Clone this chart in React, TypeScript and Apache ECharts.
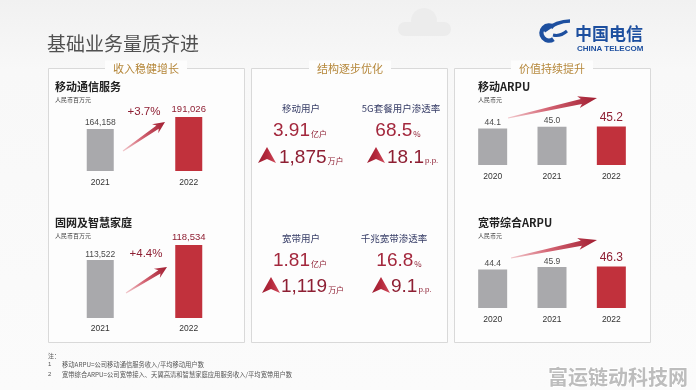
import React, { useEffect, useRef } from 'react';
import * as echarts from 'echarts';

// ---------- data ----------
const yearsTwo = ['2021', '2022'];
const mobileServiceRevenue = [164158, 191026];
const homeRevenue = [113522, 118534];
const yearsThree = ['2020', '2021', '2022'];
const mobileArpu = [44.1, 45.0, 45.2];
const broadbandArpu = [44.4, 45.9, 46.3];
const revenueGrowth = ['+3.7%', '+4.4%'];
const kpiNames = ['移动用户', '5G套餐用户渗透率', '宽带用户', '千兆宽带渗透率'];
const kpiValues = ['3.91', '68.5', '1.81', '16.8'];
const kpiUnits = ['亿户', '%', '亿户', '%'];
const kpiDeltas = ['1,875', '18.1', '1,119', '9.1'];
const kpiDeltaUnits = ['万户', 'p.p.', '万户', 'p.p.'];
const panelHeaders = ['收入稳健增长', '结构逐步优化', '价值持续提升'];
const chartTitles = ['移动通信服务', '固网及智慧家庭', '移动ARPU', '宽带综合ARPU'];
const chartUnits = ['人民币百万元', '人民币百万元', '人民币元', '人民币元'];
const notes = [
  '移动ARPU=公司移动通信服务收入/平均移动用户数',
  '宽带综合ARPU=公司宽带接入、天翼高清和智慧家庭应用服务收入/平均宽带用户数',
];

// ---------- styles ----------
const GRAY = '#a9a9ac';
const RED = '#c1313c';
const DARK_RED = '#8e1f33';
const NUM = '"Liberation Sans", Arial, sans-serif';
const CJK = '"Noto Sans CJK SC", sans-serif';
const BLUE = '#1d4f9f';
const PANEL_FILL = '#fdfdfd';

function arrowPoints(x1: number, y1: number, x2: number, y2: number, tailW: number, shaftW: number, headW: number, headLen: number) {
  const dx = x2 - x1, dy = y2 - y1;
  const L = Math.sqrt(dx * dx + dy * dy);
  const ux = dx / L, uy = dy / L;
  const nx = -uy, ny = ux;
  const bx = x2 - ux * headLen, by = y2 - uy * headLen;
  const sx = bx + ux * 3, sy = by + uy * 3;
  return [
    [x1 + nx * tailW / 2, y1 + ny * tailW / 2],
    [sx + nx * shaftW / 2, sy + ny * shaftW / 2],
    [bx + nx * headW / 2, by + ny * headW / 2],
    [x2, y2],
    [bx - nx * headW / 2, by - ny * headW / 2],
    [sx - nx * shaftW / 2, sy - ny * shaftW / 2],
    [x1 - nx * tailW / 2, y1 - ny * tailW / 2],
  ];
}

function arrow(x1: number, y1: number, x2: number, y2: number, shaftW: number, headW: number, headLen: number) {
  return {
    type: 'polygon',
    silent: true,
    shape: { points: arrowPoints(x1, y1, x2, y2, 1, shaftW, headW, headLen) },
    style: {
      fill: new echarts.graphic.LinearGradient(x1, y1, x2, y2, [
        { offset: 0, color: '#f2c9cd' },
        { offset: 0.45, color: '#d36372' },
        { offset: 1, color: '#a11d30' },
      ], true),
    },
    z: 5,
  };
}

function text(x: number, y: number, t: string, s: any) {
  return {
    type: 'text',
    silent: true,
    x,
    y,
    z: 6,
    style: {
      text: t,
      align: s.align || 'left',
      textAlign: s.align || 'left',
      verticalAlign: 'middle',
      textVerticalAlign: 'middle',
      ...s,
    },
  };
}

function triangle(cx: number, top: number) {
  const w = 18, h = 16, notch = 4;
  return {
    type: 'polygon',
    silent: true,
    shape: { points: [[cx, top], [cx + w / 2, top + h], [cx, top + h - notch], [cx - w / 2, top + h]] },
    style: {
      fill: new echarts.graphic.LinearGradient(cx - w / 2, top, cx + w / 2, top, [
        { offset: 0, color: '#9c1c30' },
        { offset: 0.5, color: '#b4283b' },
        { offset: 1, color: '#cf4a5a' },
      ], true),
    },
    z: 6,
  };
}

function barSeries(idx: number, values: number[], fmt: (v: number) => string, graySize: number, redSize: number, barWidth: number) {
  return {
    type: 'bar',
    xAxisIndex: idx,
    yAxisIndex: idx,
    barWidth,
    label: {
      show: true,
      position: 'top',
      formatter: (p: any) => fmt(Number(p.value)),
      fontFamily: NUM,
    },
    data: values.map((v, i) => {
      const last = i === values.length - 1;
      return {
        value: v,
        itemStyle: { color: last ? RED : GRAY },
        label: {
          color: last ? DARK_RED : '#4a4a4a',
          fontSize: last ? redSize : graySize,
          distance: last ? 3 : 2,
        },
      };
    }),
  };
}

function buildOption() {
  const grids = [
    { left: 56, top: 100, width: 177, height: 71 },
    { left: 56, top: 240, width: 177, height: 78 },
    { left: 463, top: 125, width: 178, height: 40 },
    { left: 463, top: 265, width: 178, height: 43 },
  ];
  const cats = [yearsTwo, yearsTwo, yearsThree, yearsThree];
  const margins = [6, 5, 6, 6];
  const ranges = [[70000, 229000], [94200, 120200], [24, 46], [20, 47.2]];

  const thousands = (v: number) => v.toLocaleString('en-US');
  const oneDec = (v: number) => v.toFixed(1);

  const kpiLayout = [
    { nameX: 301, nameY: 108, valX: 300, valY: 129, triX: 267, triTop: 147, dX: 279, dY: 156 },
    { nameX: 401, nameY: 108, valX: 398, valY: 129, triX: 376, triTop: 147, dX: 387, dY: 156 },
    { nameX: 301, nameY: 238, valX: 300, valY: 259, triX: 271, triTop: 277, dX: 281, dY: 285 },
    { nameX: 394, nameY: 238, valX: 399, valY: 259, triX: 381, triTop: 277, dX: 391, dY: 285 },
  ];

  const graphic: any[] = [];
  // background
  graphic.push({
    type: 'rect', silent: true, z: -10,
    shape: { x: 0, y: 0, width: 696, height: 390 },
    style: {
      fill: new echarts.graphic.LinearGradient(0, 0, 0, 390, [
        { offset: 0, color: '#f1f1f1' },
        { offset: 0.18, color: '#f8f8f8' },
        { offset: 1, color: '#fbfbfb' },
      ], true),
    },
  });
  // faint cloud decoration
  graphic.push({ type: 'circle', silent: true, z: -9, shape: { cx: 424, cy: 21, r: 13 }, style: { fill: '#ececec' } });
  graphic.push({ type: 'rect', silent: true, z: -9, shape: { x: 398, y: 22, width: 53, height: 14, r: 7 }, style: { fill: '#ececec' } });

  // title
  graphic.push(text(47, 42, '基础业务量质齐进', { fontSize: 19, fontFamily: CJK, fill: '#505050' }));

  // logo
  graphic.push({ type: 'arc', silent: true, z: 6, shape: { cx: 549, cy: 33, r: 7.5, startAngle: Math.PI * 0.3, endAngle: Math.PI * 1.72 }, style: { stroke: BLUE, lineWidth: 4.5, fill: null } });
  graphic.push({ type: 'bezierCurve', silent: true, z: 6, shape: { x1: 544, y1: 31, x2: 570, y2: 21, cpx1: 557, cpy1: 21 }, style: { stroke: BLUE, lineWidth: 3.5, fill: null } });
  graphic.push({ type: 'bezierCurve', silent: true, z: 6, shape: { x1: 553, y1: 35, x2: 567, y2: 31, cpx1: 560, cpy1: 37 }, style: { stroke: BLUE, lineWidth: 3, fill: null } });
  graphic.push(text(575, 32, '中国电信', { fontSize: 17, fontWeight: 'bold', fontFamily: CJK, fill: BLUE }));
  graphic.push(text(577, 48, 'CHINA TELECOM', { fontSize: 8, fontWeight: 'bold', fontFamily: NUM, fill: BLUE }));

  // panels
  const panelX = [48, 251, 454];
  const headerX = [146, 350, 552];
  panelX.forEach((px, i) => {
    graphic.push({
      type: 'rect', silent: true, z: -5,
      shape: { x: px + 0.5, y: 68.5, width: 196, height: 274 },
      style: { fill: PANEL_FILL, stroke: '#d9d9d9', lineWidth: 1 },
    });
    graphic.push(text(headerX[i], 68, panelHeaders[i], {
      align: 'center', fontSize: 11, fontFamily: CJK, fill: '#b5873a',
      backgroundColor: PANEL_FILL, padding: [2, 8],
    }));
  });

  // chart titles
  const titlePos = [[55, 86, 99], [55, 222, 235], [478, 86, 99], [478, 222, 235]];
  titlePos.forEach((p, i) => {
    graphic.push(text(p[0], p[1], chartTitles[i], { fontSize: 11, fontWeight: 'bold', fontFamily: CJK, fill: '#222', lineHeight: 12 }));
    graphic.push(text(p[0], p[2], chartUnits[i], { fontSize: 6, fontFamily: CJK, fill: '#444', lineHeight: 7 }));
  });

  // growth labels + arrows
  graphic.push(text(144, 111, revenueGrowth[0], { align: 'center', fontSize: 11.5, fontFamily: NUM, fill: DARK_RED }));
  graphic.push(text(146, 253, revenueGrowth[1], { align: 'center', fontSize: 11.5, fontFamily: NUM, fill: DARK_RED }));
  graphic.push(arrow(123, 151, 165, 122, 4, 11, 12));
  graphic.push(arrow(126, 293, 167, 267, 4, 11, 12));
  graphic.push(arrow(508, 118, 597, 98, 5, 12, 19));
  graphic.push(arrow(511, 258, 597, 240, 5, 12, 19));

  // KPIs
  kpiLayout.forEach((l, i) => {
    graphic.push(text(l.nameX, l.nameY, kpiNames[i], { align: 'center', fontSize: 9.5, fontFamily: CJK, fill: '#363c66' }));
    graphic.push(text(l.valX, l.valY, `{v|${kpiValues[i]}}{u|${kpiUnits[i]}}`, {
      align: 'center',
      rich: {
        v: { fontSize: 19, fontFamily: NUM, fill: '#a3283d', color: '#a3283d', verticalAlign: 'bottom' },
        u: { fontSize: 8, fontFamily: CJK, fill: '#8e1f33', color: '#8e1f33', verticalAlign: 'bottom', padding: [0, 0, 1, 1] },
      },
    }));
    graphic.push(triangle(l.triX, l.triTop));
    graphic.push(text(l.dX, l.dY, `{v|${kpiDeltas[i]}}{u|${kpiDeltaUnits[i]}}`, {
      rich: {
        v: { fontSize: 19, fontFamily: NUM, fill: '#8e1f33', color: '#8e1f33', verticalAlign: 'bottom' },
        u: { fontSize: 8, fontFamily: i % 2 === 0 ? CJK : NUM, fill: '#8e1f33', color: '#8e1f33', verticalAlign: 'bottom', padding: [0, 0, 1, 1] },
      },
    }));
  });

  // footnotes
  graphic.push(text(48, 355, '注：', { fontSize: 6, fontFamily: CJK, fill: '#555' }));
  notes.forEach((n, i) => {
    graphic.push(text(48, 364 + i * 10, String(i + 1), { fontSize: 6, fontFamily: NUM, fill: '#555' }));
    graphic.push(text(62, 364 + i * 10, n, { fontSize: 6.3, fontFamily: CJK, fill: '#555' }));
  });

  // watermark
  graphic.push(text(618, 376, '富运链动科技网', {
    align: 'center', fontSize: 20, fontWeight: 'bold', fontFamily: CJK, fill: '#bdbdbd', stroke: '#ffffff', lineWidth: 1.5, lineHeight: 22,
  }));

  return {
    animation: false,
    grid: grids.map((g) => ({ ...g, containLabel: false })),
    xAxis: grids.map((_, i) => ({
      gridIndex: i,
      type: 'category',
      data: cats[i],
      axisLine: { show: false },
      axisTick: { show: false },
      axisLabel: { color: '#333', fontSize: 8.5, fontFamily: NUM, margin: margins[i] },
    })),
    yAxis: grids.map((_, i) => ({
      gridIndex: i,
      type: 'value',
      min: ranges[i][0],
      max: ranges[i][1],
      show: false,
      splitLine: { show: false },
    })),
    series: [
      barSeries(0, mobileServiceRevenue, thousands, 8.5, 9.5, 27),
      barSeries(1, homeRevenue, thousands, 8.5, 9.5, 27),
      barSeries(2, mobileArpu, oneDec, 8.5, 12, 29),
      barSeries(3, broadbandArpu, oneDec, 8.5, 12, 29),
    ],
    graphic: { elements: graphic },
  };
}

export default function App() {
  const ref = useRef<HTMLDivElement>(null);
  useEffect(() => {
    const chart = echarts.init(ref.current!, null, { renderer: 'svg' });
    chart.setOption(buildOption() as any);
    return () => chart.dispose();
  }, []);
  return <div ref={ref} style={{ position: 'fixed', left: 0, top: 0, width: 696, height: 390 }} />;
}
